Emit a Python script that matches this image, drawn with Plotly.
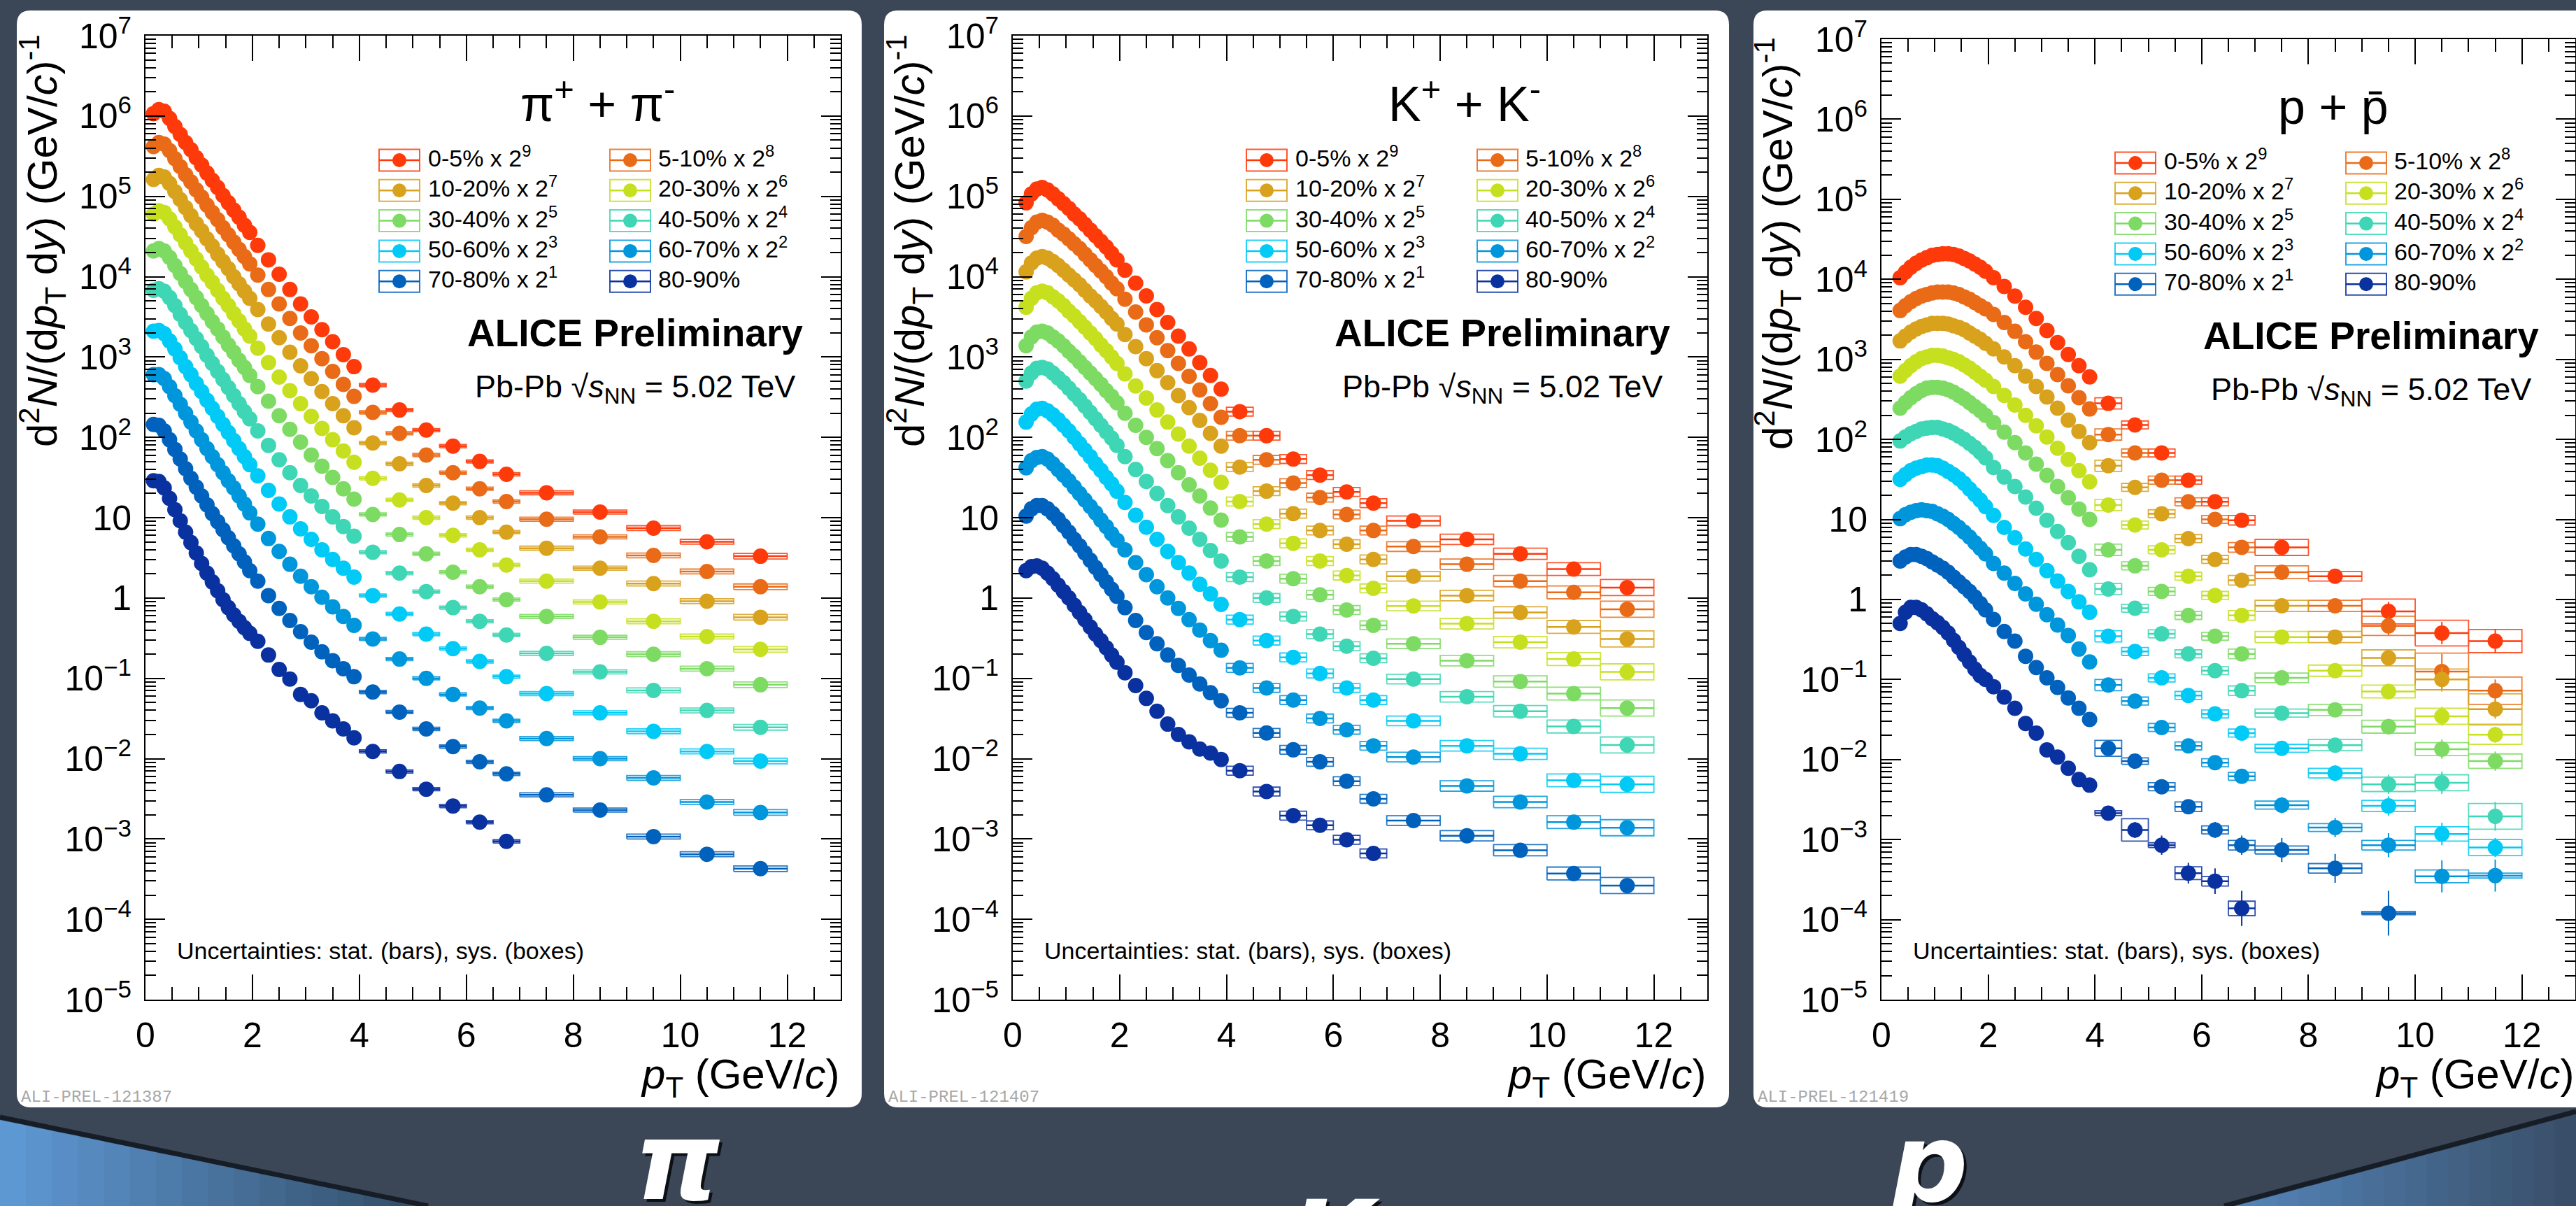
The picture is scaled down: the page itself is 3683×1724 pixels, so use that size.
import plotly.graph_objects as go

W, H = 3683, 1724
FONT = "Liberation Sans"
BG = "#3b4757"

# ---------------- legend labels / colours ----------------
CENT_LABELS = ["0-5% x 2<sup>9</sup>", "5-10% x 2<sup>8</sup>", "10-20% x 2<sup>7</sup>",
               "20-30% x 2<sup>6</sup>", "30-40% x 2<sup>5</sup>", "40-50% x 2<sup>4</sup>",
               "50-60% x 2<sup>3</sup>", "60-70% x 2<sup>2</sup>", "70-80% x 2<sup>1</sup>", "80-90%"]
COLORS = ["#ff3a0a", "#ea6b17", "#d9a21d", "#c6e01f", "#7ddb63",
          "#3ed6b4", "#00caf5", "#0096dc", "#0062bd", "#0a31a0"]

# ---------------- pT bins (GeV/c) ----------------
PT_HIGH = [4.25, 4.75, 5.25, 5.75, 6.25, 6.75, 7.5, 8.5, 9.5, 10.5, 11.5]
HALF_W = [0.25, 0.25, 0.25, 0.25, 0.25, 0.25, 0.5, 0.5, 0.5, 0.5, 0.5]
PT_PION = [0.15, 0.25, 0.35, 0.45, 0.55, 0.65, 0.75, 0.85, 0.95, 1.05, 1.15, 1.25, 1.35, 1.45,
           1.55, 1.65, 1.75, 1.85, 1.95, 2.1, 2.3, 2.5, 2.7, 2.9, 3.1, 3.3, 3.5, 3.7, 3.9,
           4.25, 4.75, 5.25, 5.75, 6.25, 6.75, 7.5, 8.5, 9.5, 10.5, 11.5]
PT_KAON = [0.25, 0.35, 0.45, 0.55, 0.65, 0.75, 0.85, 0.95, 1.05, 1.15, 1.25, 1.35, 1.45,
           1.55, 1.65, 1.75, 1.85, 1.95, 2.1, 2.3, 2.5, 2.7, 2.9, 3.1, 3.3, 3.5, 3.7, 3.9,
           4.25, 4.75, 5.25, 5.75, 6.25, 6.75, 7.5, 8.5, 9.5, 10.5, 11.5]
PT_PROTON = [0.35, 0.45, 0.55, 0.65, 0.75, 0.85, 0.95, 1.05, 1.15, 1.25, 1.35, 1.45,
             1.55, 1.65, 1.75, 1.85, 1.95, 2.1, 2.3, 2.5, 2.7, 2.9, 3.1, 3.3, 3.5, 3.7, 3.9,
             4.25, 4.75, 5.25, 5.75, 6.25, 6.75, 7.5, 8.5, 9.5, 10.5, 11.5]

# ---------------- spectra, log10 of d2N/(dpT dy) x scale ----------------
PI_00_05 = [6.03, 6.08, 6.06, 5.97, 5.87, 5.77, 5.67, 5.58, 5.48, 5.39, 5.29, 5.20, 5.11, 5.01, 4.92, 4.83, 4.74, 4.64, 4.55,
            4.39, 4.21, 4.03, 3.84, 3.66, 3.50, 3.34, 3.19, 3.03, 2.88,
            2.65, 2.34, 2.09, 1.89, 1.70, 1.54, 1.31, 1.07, 0.87, 0.70, 0.52]
PI_05_10 = [5.62, 5.67, 5.65, 5.57, 5.47, 5.37, 5.27, 5.18, 5.08, 4.99, 4.89, 4.80, 4.71, 4.61, 4.52, 4.43, 4.34, 4.25, 4.16,
            4.02, 3.84, 3.66, 3.48, 3.30, 3.14, 2.98, 2.82, 2.66, 2.51,
            2.31, 2.05, 1.78, 1.56, 1.36, 1.20, 0.98, 0.76, 0.53, 0.33, 0.14]
PI_10_20 = [5.21, 5.26, 5.24, 5.16, 5.06, 4.96, 4.86, 4.76, 4.66, 4.57, 4.47, 4.38, 4.28, 4.19, 4.10, 4.00, 3.91, 3.82, 3.73,
            3.59, 3.41, 3.24, 3.06, 2.89, 2.73, 2.57, 2.42, 2.27, 2.12,
            1.93, 1.67, 1.40, 1.18, 1.00, 0.82, 0.62, 0.37, 0.18, -0.04, -0.24]
PI_20_30 = [4.78, 4.82, 4.80, 4.72, 4.62, 4.52, 4.42, 4.32, 4.22, 4.12, 4.02, 3.93, 3.83, 3.73, 3.64, 3.54, 3.45, 3.35, 3.26,
            3.11, 2.93, 2.75, 2.58, 2.42, 2.26, 2.11, 1.97, 1.83, 1.69,
            1.49, 1.22, 1.00, 0.78, 0.60, 0.41, 0.21, -0.05, -0.29, -0.48, -0.64]
PI_30_40 = [4.32, 4.35, 4.32, 4.24, 4.14, 4.04, 3.94, 3.84, 3.74, 3.64, 3.54, 3.44, 3.35, 3.25, 3.15, 3.06, 2.96, 2.87, 2.77,
            2.63, 2.45, 2.27, 2.10, 1.94, 1.78, 1.64, 1.50, 1.36, 1.23,
            1.04, 0.79, 0.55, 0.32, 0.14, -0.02, -0.23, -0.49, -0.70, -0.88, -1.08]
PI_40_50 = [3.83, 3.85, 3.82, 3.74, 3.64, 3.53, 3.43, 3.33, 3.23, 3.13, 3.02, 2.92, 2.82, 2.72, 2.62, 2.52, 2.42, 2.32, 2.23,
            2.08, 1.90, 1.72, 1.56, 1.40, 1.27, 1.14, 1.01, 0.89, 0.77,
            0.57, 0.31, 0.08, -0.12, -0.29, -0.46, -0.69, -0.92, -1.15, -1.40, -1.61]
PI_50_60 = [3.32, 3.33, 3.29, 3.20, 3.10, 2.99, 2.88, 2.78, 2.67, 2.57, 2.46, 2.36, 2.26, 2.16, 2.06, 1.96, 1.86, 1.76, 1.66,
            1.52, 1.34, 1.17, 1.01, 0.86, 0.73, 0.60, 0.48, 0.37, 0.26,
            0.03, -0.20, -0.45, -0.63, -0.79, -0.98, -1.19, -1.43, -1.66, -1.91, -2.03]
PI_60_70 = [2.78, 2.78, 2.73, 2.63, 2.52, 2.41, 2.30, 2.19, 2.08, 1.97, 1.86, 1.76, 1.66, 1.56, 1.46, 1.37, 1.27, 1.17, 1.06,
            0.92, 0.74, 0.58, 0.42, 0.27, 0.14, 0.01, -0.11, -0.23, -0.34,
            -0.51, -0.76, -1.00, -1.20, -1.37, -1.53, -1.75, -2.00, -2.24, -2.54, -2.67]
PI_70_80 = [2.16, 2.15, 2.08, 1.97, 1.85, 1.73, 1.61, 1.49, 1.38, 1.27, 1.16, 1.05, 0.95, 0.85, 0.75, 0.65, 0.55, 0.45, 0.34,
            0.21, 0.03, -0.13, -0.28, -0.42, -0.55, -0.67, -0.78, -0.88, -0.98,
            -1.17, -1.42, -1.63, -1.85, -2.04, -2.19, -2.45, -2.64, -2.97, -3.19, -3.37]
PI_80_90 = [1.46, 1.45, 1.37, 1.24, 1.10, 0.96, 0.82, 0.69, 0.56, 0.43, 0.31, 0.20, 0.09, -0.02, -0.12, -0.21, -0.29, -0.37, -0.44,
            -0.54, -0.71, -0.89, -1.01, -1.20, -1.28, -1.43, -1.53, -1.63, -1.74,
            -1.91, -2.16, -2.38, -2.59, -2.79, -3.03]

K_00_05 = [4.92, 5.03, 5.09, 5.11, 5.08, 5.03, 4.97, 4.91, 4.85, 4.78, 4.72, 4.65, 4.58, 4.51, 4.44, 4.37, 4.29, 4.21,
           4.08, 3.92, 3.76, 3.59, 3.43, 3.26, 3.10, 2.93, 2.77, 2.60,
           2.32, 2.02, 1.73, 1.53, 1.32, 1.18, 0.96, 0.73, 0.55, 0.36, 0.13]
K_05_10 = [4.50, 4.61, 4.68, 4.70, 4.68, 4.64, 4.58, 4.53, 4.47, 4.41, 4.35, 4.28, 4.21, 4.14, 4.07, 4.00, 3.92, 3.85,
           3.72, 3.56, 3.40, 3.24, 3.08, 2.92, 2.76, 2.59, 2.42, 2.25,
           2.02, 1.72, 1.43, 1.25, 1.04, 0.84, 0.64, 0.42, 0.21, 0.07, -0.14]
K_10_20 = [4.06, 4.17, 4.23, 4.25, 4.23, 4.19, 4.14, 4.08, 4.02, 3.96, 3.90, 3.83, 3.76, 3.70, 3.63, 3.56, 3.48, 3.41,
           3.28, 3.13, 2.98, 2.83, 2.68, 2.52, 2.37, 2.21, 2.05, 1.89,
           1.63, 1.33, 1.05, 0.84, 0.67, 0.48, 0.27, 0.03, -0.18, -0.36, -0.51]
K_20_30 = [3.62, 3.73, 3.80, 3.82, 3.80, 3.75, 3.70, 3.64, 3.57, 3.51, 3.44, 3.37, 3.30, 3.23, 3.15, 3.08, 3.00, 2.92,
           2.79, 2.64, 2.49, 2.34, 2.19, 2.04, 1.89, 1.74, 1.59, 1.44,
           1.20, 0.92, 0.68, 0.46, 0.28, 0.12, -0.10, -0.32, -0.55, -0.76, -0.92]
K_30_40 = [3.14, 3.25, 3.31, 3.32, 3.30, 3.25, 3.20, 3.14, 3.07, 3.01, 2.94, 2.87, 2.80, 2.73, 2.66, 2.58, 2.51, 2.43,
           2.30, 2.15, 2.00, 1.86, 1.71, 1.56, 1.41, 1.27, 1.12, 0.97,
           0.76, 0.46, 0.24, 0.04, -0.15, -0.34, -0.57, -0.78, -1.04, -1.19, -1.37]
K_40_50 = [2.70, 2.80, 2.86, 2.87, 2.85, 2.80, 2.74, 2.68, 2.61, 2.54, 2.47, 2.39, 2.31, 2.23, 2.15, 2.07, 1.99, 1.90,
           1.76, 1.60, 1.45, 1.30, 1.15, 1.01, 0.87, 0.73, 0.59, 0.46,
           0.26, 0.00, -0.23, -0.45, -0.60, -0.75, -1.01, -1.23, -1.41, -1.60, -1.83]
K_50_60 = [2.19, 2.29, 2.35, 2.36, 2.33, 2.28, 2.22, 2.15, 2.08, 2.00, 1.92, 1.84, 1.76, 1.67, 1.59, 1.50, 1.42, 1.33,
           1.19, 1.03, 0.88, 0.73, 0.58, 0.44, 0.31, 0.17, 0.05, -0.08,
           -0.27, -0.53, -0.74, -0.94, -1.12, -1.27, -1.53, -1.84, -1.94, -2.27, -2.32]
K_60_70 = [1.62, 1.71, 1.75, 1.76, 1.73, 1.67, 1.60, 1.53, 1.46, 1.38, 1.30, 1.22, 1.14, 1.06, 0.97, 0.89, 0.80, 0.72,
           0.60, 0.44, 0.29, 0.14, 0.00, -0.13, -0.27, -0.40, -0.53, -0.65,
           -0.87, -1.12, -1.27, -1.50, -1.64, -1.84, -1.98, -2.34, -2.54, -2.79, -2.86]
K_70_80 = [1.02, 1.11, 1.15, 1.15, 1.11, 1.05, 0.98, 0.90, 0.82, 0.73, 0.65, 0.56, 0.47, 0.38, 0.29, 0.20, 0.11, 0.02,
           -0.12, -0.28, -0.43, -0.57, -0.71, -0.84, -0.96, -1.07, -1.18, -1.28,
           -1.43, -1.68, -1.89, -2.04, -2.28, -2.50, -2.77, -2.96, -3.14, -3.43, -3.58]
K_80_90 = [0.34, 0.39, 0.40, 0.37, 0.31, 0.24, 0.16, 0.08, 0.00, -0.09, -0.18, -0.27, -0.36, -0.45, -0.53, -0.62, -0.71, -0.80,
           -0.93, -1.09, -1.25, -1.41, -1.57, -1.70, -1.79, -1.88, -1.93, -2.01,
           -2.15, -2.41, -2.71, -2.83, -3.01, -3.18]

P_00_05 = [4.02, 4.09, 4.15, 4.20, 4.24, 4.27, 4.30, 4.31, 4.32, 4.32, 4.31, 4.29, 4.26, 4.23, 4.19, 4.15, 4.10,
           4.02, 3.91, 3.79, 3.65, 3.51, 3.36, 3.21, 3.06, 2.92, 2.78,
           2.45, 2.18, 1.83, 1.49, 1.22, 0.99, 0.65, 0.29, -0.15, -0.42, -0.52]
P_05_10 = [3.61, 3.67, 3.72, 3.76, 3.79, 3.81, 3.83, 3.84, 3.84, 3.84, 3.83, 3.81, 3.78, 3.75, 3.71, 3.67, 3.63,
           3.56, 3.46, 3.35, 3.22, 3.09, 2.95, 2.81, 2.67, 2.52, 2.38,
           2.06, 1.83, 1.49, 1.22, 1.00, 0.65, 0.34, -0.08, -0.33, -0.90, -1.14]
P_10_20 = [3.23, 3.29, 3.34, 3.38, 3.41, 3.43, 3.45, 3.45, 3.45, 3.44, 3.42, 3.40, 3.37, 3.33, 3.29, 3.25, 3.20,
           3.13, 3.03, 2.92, 2.79, 2.66, 2.53, 2.39, 2.24, 2.10, 1.96,
           1.67, 1.40, 1.07, 0.76, 0.50, 0.24, -0.08, -0.47, -0.73, -1.00, -1.37]
P_20_30 = [2.79, 2.86, 2.92, 2.97, 3.01, 3.03, 3.05, 3.05, 3.04, 3.02, 3.00, 2.97, 2.93, 2.89, 2.84, 2.79, 2.74,
           2.66, 2.55, 2.43, 2.30, 2.17, 2.03, 1.89, 1.75, 1.61, 1.47,
           1.18, 0.93, 0.62, 0.29, 0.05, -0.20, -0.47, -0.89, -1.15, -1.46, -1.69]
P_30_40 = [2.39, 2.46, 2.52, 2.57, 2.61, 2.64, 2.65, 2.65, 2.64, 2.62, 2.59, 2.55, 2.51, 2.46, 2.41, 2.36, 2.30,
           2.21, 2.09, 1.96, 1.83, 1.69, 1.55, 1.41, 1.27, 1.13, 1.00,
           0.62, 0.42, 0.10, -0.20, -0.46, -0.68, -0.98, -1.38, -1.59, -1.87, -2.02]
P_40_50 = [1.98, 2.03, 2.07, 2.10, 2.13, 2.14, 2.15, 2.15, 2.13, 2.11, 2.08, 2.04, 2.00, 1.95, 1.90, 1.84, 1.77,
           1.65, 1.53, 1.41, 1.28, 1.14, 0.99, 0.85, 0.71, 0.54, 0.37,
           0.13, -0.11, -0.43, -0.68, -0.89, -1.14, -1.42, -1.82, -2.31, -2.29, -2.71]
P_50_60 = [1.50, 1.56, 1.61, 1.64, 1.66, 1.68, 1.68, 1.67, 1.64, 1.60, 1.56, 1.51, 1.45, 1.38, 1.31, 1.24, 1.16,
           1.05, 0.90, 0.77, 0.63, 0.50, 0.36, 0.23, 0.10, -0.03, -0.16,
           -0.46, -0.65, -0.98, -1.20, -1.43, -1.67, -1.86, -2.17, -2.58, -2.93, -3.10]
P_60_70 = [1.01, 1.06, 1.09, 1.11, 1.12, 1.11, 1.10, 1.07, 1.04, 1.00, 0.95, 0.90, 0.84, 0.78, 0.71, 0.64, 0.57,
           0.45, 0.33, 0.20, 0.07, -0.06, -0.19, -0.32, -0.45, -0.62, -0.78,
           -1.07, -1.27, -1.60, -1.83, -2.04, -2.21, -2.57, -2.85, -3.07, -3.46, -3.45]
P_70_80 = [0.48, 0.53, 0.56, 0.56, 0.54, 0.51, 0.47, 0.43, 0.39, 0.34, 0.28, 0.22, 0.16, 0.10, 0.03, -0.05, -0.13,
           -0.25, -0.40, -0.52, -0.71, -0.85, -0.98, -1.10, -1.23, -1.36, -1.50,
           -1.86, -2.02, -2.34, -2.59, -2.88, -3.07, -3.13, -3.36, -3.92]
P_80_90 = [-0.30, -0.16, -0.10, -0.10, -0.13, -0.18, -0.24, -0.29, -0.35, -0.42, -0.51, -0.60, -0.69, -0.78, -0.87, -0.95, -1.00,
           -1.09, -1.22, -1.36, -1.55, -1.67, -1.88, -1.97, -2.11, -2.25, -2.32,
           -2.67, -2.88, -3.07, -3.42, -3.52, -3.86]

# ---------------- uncertainties for the high-pT bins (half size, in decades) ----------------
PI_SYS = [0.02, 0.02, 0.02, 0.02, 0.02, 0.02, 0.025, 0.025, 0.03, 0.03, 0.035]
PI_STAT = [0.004, 0.005, 0.006, 0.007, 0.008, 0.01, 0.012, 0.015, 0.02, 0.03, 0.04]
K_SYS = [0.055, 0.055, 0.055, 0.055, 0.055, 0.055, 0.06, 0.065, 0.07, 0.08, 0.10]
K_STAT = [0.008, 0.01, 0.012, 0.015, 0.02, 0.025, 0.03, 0.035, 0.04, 0.05, 0.06]
P_SYS_00_05 = [0.07, 0.05, 0.05, 0.05, 0.05, 0.06, 0.10, 0.06, 0.155, 0.16, 0.145]
P_SYS_05_10 = [0.07, 0.05, 0.05, 0.05, 0.05, 0.06, 0.08, 0.07, 0.12, 0.23, 0.17]
P_SYS_10_20 = [0.07, 0.05, 0.05, 0.05, 0.05, 0.06, 0.07, 0.07, 0.10, 0.13, 0.19]
P_SYS_20_30 = [0.07, 0.05, 0.05, 0.05, 0.05, 0.06, 0.07, 0.07, 0.08, 0.10, 0.12]
P_SYS_30_40 = [0.07, 0.05, 0.05, 0.05, 0.05, 0.06, 0.06, 0.07, 0.08, 0.08, 0.09]
P_SYS_40_50 = [0.07, 0.05, 0.05, 0.05, 0.05, 0.06, 0.05, 0.07, 0.09, 0.10, 0.16]
P_SYS_50_60 = [0.07, 0.05, 0.05, 0.05, 0.05, 0.05, 0.05, 0.06, 0.07, 0.09, 0.10]
P_SYS_60_70 = [0.07, 0.05, 0.05, 0.05, 0.05, 0.05, 0.05, 0.05, 0.06, 0.08, 0.03]
P_SYS_70_80 = [0.10, 0.04, 0.05, 0.06, 0.05, 0.06, 0.05, 0.06, 0.02]
P_SYS_80_90 = [0.03, 0.14, 0.03, 0.08, 0.06, 0.09]
P_STAT_00_05 = [0.01, 0.01, 0.01, 0.02, 0.02, 0.03, 0.04, 0.06, 0.12, 0.14, 0.15]
P_STAT_05_10 = [0.01, 0.01, 0.02, 0.02, 0.03, 0.04, 0.05, 0.08, 0.12, 0.22, 0.14]
P_STAT_10_20 = [0.01, 0.02, 0.02, 0.03, 0.03, 0.04, 0.06, 0.08, 0.10, 0.15, 0.12]
P_STAT_20_30 = [0.01, 0.02, 0.02, 0.03, 0.04, 0.05, 0.06, 0.08, 0.10, 0.12, 0.10]
P_STAT_30_40 = [0.02, 0.02, 0.03, 0.03, 0.04, 0.05, 0.06, 0.08, 0.10, 0.12, 0.12]
P_STAT_40_50 = [0.02, 0.02, 0.03, 0.04, 0.05, 0.06, 0.07, 0.09, 0.12, 0.14, 0.18]
P_STAT_50_60 = [0.02, 0.03, 0.04, 0.05, 0.06, 0.07, 0.08, 0.10, 0.12, 0.14, 0.12]
P_STAT_60_70 = [0.03, 0.04, 0.05, 0.06, 0.07, 0.08, 0.10, 0.12, 0.15, 0.20, 0.20]
P_STAT_70_80 = [0.05, 0.06, 0.07, 0.08, 0.10, 0.12, 0.15, 0.18, 0.28]
P_STAT_80_90 = [0.08, 0.10, 0.12, 0.13, 0.16, 0.22]

PION = [PI_00_05, PI_05_10, PI_10_20, PI_20_30, PI_30_40, PI_40_50, PI_50_60, PI_60_70, PI_70_80, PI_80_90]
KAON = [K_00_05, K_05_10, K_10_20, K_20_30, K_30_40, K_40_50, K_50_60, K_60_70, K_70_80, K_80_90]
PROTON = [P_00_05, P_05_10, P_10_20, P_20_30, P_30_40, P_40_50, P_50_60, P_60_70, P_70_80, P_80_90]
P_SYS = [P_SYS_00_05, P_SYS_05_10, P_SYS_10_20, P_SYS_20_30, P_SYS_30_40,
         P_SYS_40_50, P_SYS_50_60, P_SYS_60_70, P_SYS_70_80, P_SYS_80_90]
P_STAT = [P_STAT_00_05, P_STAT_05_10, P_STAT_10_20, P_STAT_20_30, P_STAT_30_40,
          P_STAT_40_50, P_STAT_50_60, P_STAT_60_70, P_STAT_70_80, P_STAT_80_90]


def fx(x):
    return x / W


def fy(y):
    return 1.0 - y / H


PANELS = [
    dict(pt=PT_PION, series=PION, sys=[PI_SYS] * 10, stat=[PI_STAT] * 10,
         ax=208, ar=1202, top=51, dy=0, card=(24, 1232), prel="ALI-PREL-121387",
         title="π<sup>+</sup> + π<sup>-</sup>", big="π", bigx=969, bigtop=1568),
    dict(pt=PT_KAON, series=KAON, sys=[K_SYS] * 10, stat=[K_STAT] * 10,
         ax=1448, ar=2441, top=51, dy=0, card=(1264, 2472), prel="ALI-PREL-121407",
         title="K<sup>+</sup> + K<sup>-</sup>", big="K", bigx=1908, bigtop=1681),
    dict(pt=PT_PROTON, series=PROTON, sys=P_SYS, stat=P_STAT,
         ax=2690, ar=3682, top=56, dy=4, card=(2507, 3720), prel="ALI-PREL-121419",
         title="p + p\u0304", big="p", bigx=2757, bigtop=1571),
]

fig = go.Figure()
shapes = []
annotations = []


def ann(text, x, y, xa, ya, size, color="black", family=FONT, angle=0):
    annotations.append(dict(text=text, x=fx(x), y=fy(y), xref="paper", yref="paper",
                            xanchor=xa, yanchor=ya, showarrow=False, textangle=angle,
                            font=dict(family=family, size=size, color=color)))


def rrect_path(x0, y0, x1, y1, r):
    return (f"M {fx(x0 + r)},{fy(y0)} L {fx(x1 - r)},{fy(y0)} Q {fx(x1)},{fy(y0)} {fx(x1)},{fy(y0 + r)} "
            f"L {fx(x1)},{fy(y1 - r)} Q {fx(x1)},{fy(y1)} {fx(x1 - r)},{fy(y1)} "
            f"L {fx(x0 + r)},{fy(y1)} Q {fx(x0)},{fy(y1)} {fx(x0)},{fy(y1 - r)} "
            f"L {fx(x0)},{fy(y0 + r)} Q {fx(x0)},{fy(y0)} {fx(x0 + r)},{fy(y0)} Z")


def poly_path(pts):
    return "M " + " L ".join(f"{fx(a)},{fy(b)}" for a, b in pts) + " Z"


def mix(c1, c2, t):
    a = [int(c1[i:i + 2], 16) for i in (1, 3, 5)]
    b = [int(c2[i:i + 2], 16) for i in (1, 3, 5)]
    return "#" + "".join(f"{round(a[i] + (b[i] - a[i]) * t):02x}" for i in range(3))


# ---------------- background decorations (slide wedges) ----------------
shapes.append(dict(type="line", xref="paper", yref="paper", x0=fx(0), y0=fy(1597), x1=fx(612), y1=fy(1724),
                   line=dict(color="#161d26", width=7), layer="below"))
NB = 16
for i in range(NB):
    a, b = 594 * i / NB, 594 * (i + 1) / NB
    ta, tb = 1601 + a * 123 / 594, 1601 + b * 123 / 594
    shapes.append(dict(type="path", xref="paper", yref="paper", layer="below",
                       path=poly_path([(a, ta), (b + 0.8, tb), (b + 0.8, 1724), (a, 1724)]),
                       fillcolor=mix("#5e98d3", "#34506c", i / (NB - 1)), line=dict(width=0)))
shapes.append(dict(type="line", xref="paper", yref="paper", x0=fx(3683), y0=fy(1589), x1=fx(3180), y1=fy(1724),
                   line=dict(color="#161d26", width=7), layer="below"))
for i in range(NB):
    a, b = 3195 + 488 * i / NB, 3195 + 488 * (i + 1) / NB
    ta, tb = 1593 + (3683 - a) * 131 / 488, 1593 + (3683 - b) * 131 / 488
    shapes.append(dict(type="path", xref="paper", yref="paper", layer="below",
                       path=poly_path([(a, ta), (b + 0.8, tb), (b + 0.8, 1724), (a, 1724)]),
                       fillcolor=mix("#5384b8", "#394f69", i / (NB - 1)), line=dict(width=0)))

YT_VALS = [10.0 ** e for e in range(-5, 8)]
YT_TEXT = ["10<sup>\u22125</sup>", "10<sup>\u22124</sup>", "10<sup>\u22123</sup>", "10<sup>\u22122</sup>",
           "10<sup>\u22121</sup>", "1", "10", "10<sup>2</sup>", "10<sup>3</sup>", "10<sup>4</sup>",
           "10<sup>5</sup>", "10<sup>6</sup>", "10<sup>7</sup>"]
Y_MINOR = [m * 10.0 ** e for e in range(-5, 7) for m in range(2, 10)]

for k, p in enumerate(PANELS):
    sfx = "" if k == 0 else str(k + 1)
    xa, ya = "x" + sfx, "y" + sfx
    AX, AR, dy = p["ax"], p["ar"], p["dy"]
    pt = p["pt"]
    nd = len(pt) - len(PT_HIGH)

    # card
    c0, c1 = p["card"]
    shapes.append(dict(type="path", xref="paper", yref="paper", layer="below",
                       path=rrect_path(c0, 15, c1, 1583, 20), fillcolor="white", line=dict(width=0)))

    # systematic boxes
    for c, v in enumerate(p["series"]):
        s = p["sys"][c]
        bx, by = [], []
        for i in range(nd, len(v)):
            j = i - nd
            x0, x1 = pt[i] - HALF_W[j], pt[i] + HALF_W[j]
            lo, hi = 10 ** (v[i] - s[j]), 10 ** (v[i] + s[j])
            bx += [x0, x1, x1, x0, x0, None]
            by += [lo, lo, hi, hi, lo, None]
        fig.add_trace(go.Scatter(x=bx, y=by, mode="lines", xaxis=xa, yaxis=ya,
                                 line=dict(color=COLORS[c], width=1.8), opacity=0.85,
                                 hoverinfo="skip", showlegend=False))
    # points
    for c, v in enumerate(p["series"]):
        n = len(v)
        st = p["stat"][c]
        xs = pt[:n]
        ys = [10 ** a for a in v]
        ex = [0.0] * nd + HALF_W[:n - nd]
        up = [0.0] * nd + [ys[i] * (10 ** st[i - nd] - 1) for i in range(nd, n)]
        dn = [0.0] * nd + [ys[i] * (1 - 10 ** (-st[i - nd])) for i in range(nd, n)]
        fig.add_trace(go.Scatter(x=xs, y=ys, mode="markers", xaxis=xa, yaxis=ya,
                                 marker=dict(size=22, color=COLORS[c], line=dict(width=0)),
                                 error_x=dict(type="data", array=ex, symmetric=True, thickness=2.5,
                                              width=0, color=COLORS[c]),
                                 error_y=dict(type="data", array=up, arrayminus=dn, symmetric=False,
                                              thickness=2, width=0, color=COLORS[c]),
                                 hoverinfo="skip", showlegend=False))

    axcommon = dict(showgrid=False, zeroline=False, showline=True, linecolor="black", linewidth=2,
                    mirror="ticks", ticks="inside", tickwidth=2, tickcolor="black", automargin=False,
                    tickfont=dict(family=FONT, size=50, color="black"))
    fig.layout["xaxis" + sfx] = dict(
        domain=[fx(AX), fx(AR)], anchor=ya, range=[0, 13], tick0=0, dtick=2, ticklen=36,
        ticklabelstandoff=6,
        minor=dict(ticks="inside", ticklen=18, tickwidth=2, tickcolor="black", tick0=0, dtick=0.5,
                   showgrid=False),
        **axcommon)
    fig.layout["yaxis" + sfx] = dict(
        domain=[fy(1429), fy(p["top"])], anchor=xa, type="log", range=[-5, 7],
        tickmode="array", tickvals=YT_VALS, ticktext=YT_TEXT, ticklen=28, ticklabelstandoff=8,
        minor=dict(ticks="inside", ticklen=15, tickwidth=2, tickcolor="black", tickmode="array",
                   tickvals=Y_MINOR, showgrid=False),
        **axcommon)

    # title of the particle species
    ann(p["title"], AX + 646, 190 + dy, "center", "bottom", 70)
    # legend
    for idx in range(10):
        col, row = idx % 2, idx // 2
        cy = 229 + row * 43.3 + dy
        bx0 = AX + (334 if col == 0 else 664)
        bx1 = bx0 + 58
        cx = (bx0 + bx1) / 2
        colr = COLORS[idx]
        shapes.append(dict(type="rect", xref="paper", yref="paper", x0=fx(bx0), x1=fx(bx1),
                           y0=fy(cy + 15.5), y1=fy(cy - 15.5), line=dict(color=colr, width=2),
                           opacity=0.85, fillcolor="rgba(0,0,0,0)"))
        shapes.append(dict(type="line", xref="paper", yref="paper", x0=fx(bx0), x1=fx(bx1),
                           y0=fy(cy), y1=fy(cy), line=dict(color=colr, width=2.5)))
        shapes.append(dict(type="circle", xref="paper", yref="paper", x0=fx(cx - 10), x1=fx(cx + 10),
                           y0=fy(cy + 10), y1=fy(cy - 10), fillcolor=colr, line=dict(width=0)))
        ann(CENT_LABELS[idx], AX + (402 if col == 0 else 731), cy + 18, "left", "bottom", 34)

    ann("<b>ALICE Preliminary</b>", AX + 700, 509 + dy, "center", "bottom", 55)
    ann("Pb-Pb \u221a<i>s</i><sub>NN</sub> = 5.02 TeV", AX + 700, 525 + dy, "center", "top", 45)
    ann("Uncertainties: stat. (bars), sys. (boxes)", AX + 43, 1338, "left", "top", 34)
    ann(p["prel"], c0 + 4, 1568, "left", "middle", 24, color="#a8a8a8", family="Liberation Mono")
    ann("<i>p</i><sub>T</sub> (GeV/<i>c</i>)", AR, 1500, "right", "top", 60)
    ann("d<sup>2</sup><i>N</i>/(d<i>p</i><sub>T</sub> d<i>y</i>) (GeV/<i>c</i>)<sup>-1</sup>",
        AX - 148, 47 + dy, "center", "top", 60, angle=-90)

    # big species letter under the panel (with shadow)
    ann(f"<b><i>{p['big']}</i></b>", p["bigx"] + 4, p["bigtop"] + 4, "center", "top", 155,
        color="#0c1016", family="DejaVu Sans")
    ann(f"<b><i>{p['big']}</i></b>", p["bigx"], p["bigtop"], "center", "top", 155,
        color="white", family="DejaVu Sans")

fig.update_layout(width=W, height=H, margin=dict(l=0, r=0, t=0, b=0, autoexpand=False),
                  paper_bgcolor=BG, plot_bgcolor="rgba(0,0,0,0)", showlegend=False, hovermode=False,
                  shapes=shapes, annotations=annotations)

fig.write_html("out.html", post_script="document.body.style.margin='0';")
